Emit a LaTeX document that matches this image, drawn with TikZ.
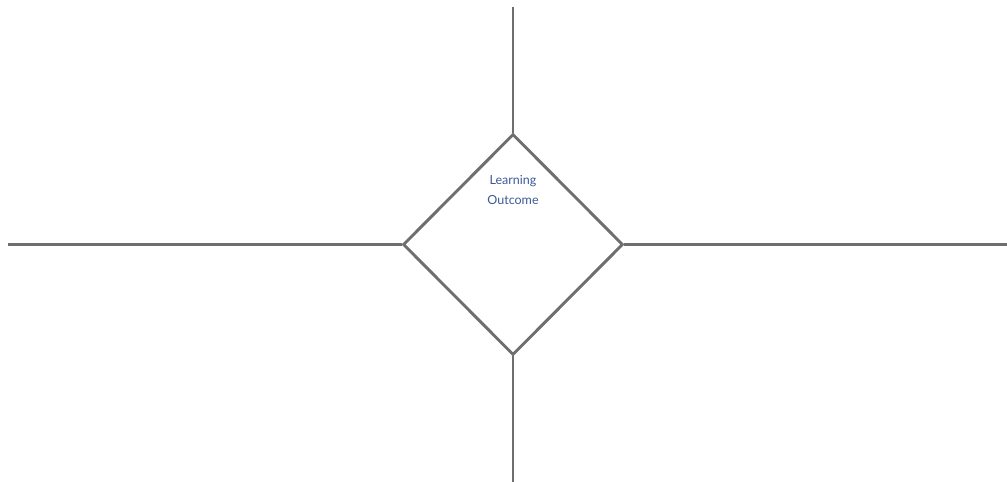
\documentclass[tikz,border=0pt]{standalone}
\usepackage{fontspec}
\setmainfont{Lato}
\usetikzlibrary{shapes.geometric}
\definecolor{linegrey}{HTML}{6E6E6E}
\definecolor{textblue}{HTML}{3B5A96}
\tikzset{
  edgeline/.style={draw=linegrey, line width=2.9pt},
  diamondbox/.style={diamond, draw=linegrey, line width=2.9pt, minimum width=220pt, minimum height=221pt, inner sep=0pt},
  labeltext/.style={text=textblue, font=\fontsize{12.5pt}{20pt}\selectfont, align=center}
}
\begin{document}
\begin{tikzpicture}[x=1pt,y=-1pt]
\useasboundingbox (0,0) rectangle (1007,482);
\node[diamondbox] (d) at (513,244.5) {};
\node[labeltext] (lbl) at (513,190) {Learning\\Outcome};
\coordinate (topend) at (513,7);
\coordinate (botend) at (513,482);
\coordinate (leftend) at (8,244.5);
\coordinate (rightend) at (1007,244.5);
\draw[edgeline] (d.north) -- (topend);
\draw[edgeline] (d.south) -- (botend);
\draw[edgeline] (d.west) -- (leftend);
\draw[edgeline] (d.east) -- (rightend);
\end{tikzpicture}
\end{document}
